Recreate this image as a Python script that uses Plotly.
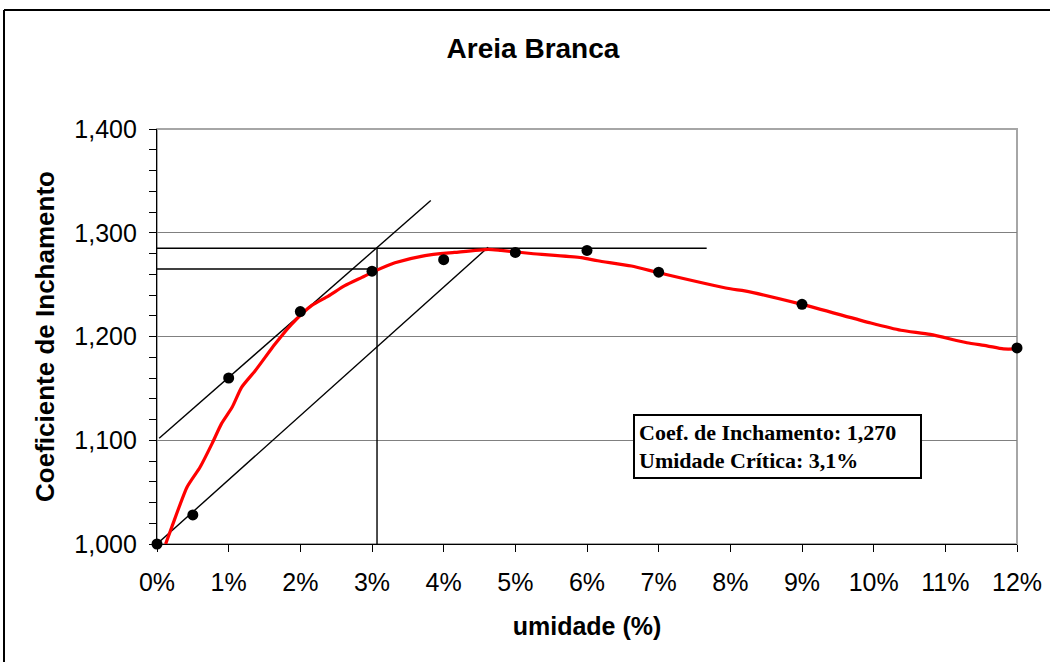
import plotly.graph_objects as go

# ---- data ----
umidade_pts = [0, 0.5, 1, 2, 3, 4, 5, 6, 7, 9, 12]
coef_pts = [1.000, 1.028, 1.160, 1.224, 1.263, 1.274, 1.281, 1.283, 1.262, 1.231, 1.189]

curve_x = [0.12, 0.21, 0.42, 0.60, 0.77, 0.90, 1.05, 1.18, 1.37, 1.65, 1.88, 2.16, 2.39,
           2.62, 2.86, 3.04, 3.32, 3.74, 4.15, 4.62, 4.80, 5.22, 5.92, 6.15, 6.62, 7.03,
           8.00, 8.20, 9.00, 9.96, 10.38, 10.79, 11.30, 11.58, 11.81, 12.00]
curve_y = [1.000, 1.017, 1.055, 1.074, 1.097, 1.116, 1.132, 1.151, 1.167, 1.193, 1.212, 1.230, 1.239,
           1.249, 1.257, 1.263, 1.271, 1.278, 1.281, 1.284, 1.283, 1.280, 1.276, 1.273, 1.268, 1.261,
           1.246, 1.244, 1.231, 1.213, 1.206, 1.202, 1.194, 1.191, 1.188, 1.188]

tangent_x = [0.03, 3.82]
tangent_y = [1.102, 1.331]
parallel_x = [0.0, 4.62]
parallel_y = [1.000, 1.286]
hline_top_x = [0.0, 7.67]
hline_top_y = [1.285, 1.285]
hline_coef_x = [0.0, 3.07]
hline_coef_y = [1.265, 1.265]
vline_x = [3.07, 3.07]
vline_y = [1.000, 1.285]

y_ticks = [1.0, 1.1, 1.2, 1.3, 1.4]
x_ticks = list(range(0, 13))
x_tick_labels = [f"{v}%" for v in x_ticks]

title_text = "Areia Branca"
x_title = "umidade (%)"
y_title = "Coeficiente de Inchamento"
box_text = "Coef. de Inchamento: 1,270<br>Umidade Crítica: 3,1%"

# ---- layout geometry ----
W, H = 1050, 662
L, R, T, B = 157, 33, 129, 118
PW, PH = W - L - R, H - T - B


def px_to_paper_x(px):
    return (px - L) / PW


def px_to_paper_y(py):
    return (H - B - py) / PH


fig = go.Figure()

line_style = dict(color="black", width=1.4)
for xs, ys in [(tangent_x, tangent_y), (parallel_x, parallel_y), (hline_top_x, hline_top_y),
               (hline_coef_x, hline_coef_y), (vline_x, vline_y)]:
    fig.add_trace(go.Scatter(x=xs, y=ys, mode="lines", line=line_style,
                             hoverinfo="skip", showlegend=False, cliponaxis=False))

fig.add_trace(go.Scatter(x=curve_x, y=curve_y, mode="lines",
                         line=dict(color="#ff0000", width=3.2, shape="spline", smoothing=0.6),
                         showlegend=False, cliponaxis=False))
fig.add_trace(go.Scatter(x=umidade_pts, y=coef_pts, mode="markers",
                         marker=dict(color="black", size=11),
                         showlegend=False, cliponaxis=False))

font_sans = "Liberation Sans, Arial, sans-serif"

fig.update_layout(
    width=W, height=H,
    margin=dict(l=L, r=R, t=T, b=B, pad=0),
    paper_bgcolor="white", plot_bgcolor="white",
    separators=",.",
    font=dict(family=font_sans, color="black", size=25),
    title=dict(text="<b>" + title_text + "</b>", x=533 / W, xanchor="center",
               y=1 - 48 / H, yanchor="middle", xref="container", yref="container",
               font=dict(size=28, family=font_sans, color="black")),
    xaxis=dict(range=[0, 12], tickvals=x_ticks, ticktext=x_tick_labels, showgrid=False,
               zeroline=False, showline=True, linecolor="black", linewidth=1.2,
               ticks="outside", ticklen=7, tickcolor="black", tickwidth=1.2,
               ticklabelstandoff=9, automargin=False,
               tickfont=dict(size=25, family=font_sans),
               title=dict(text="<b>" + x_title + "</b>", standoff=22,
                          font=dict(size=25, family=font_sans))),
    yaxis=dict(range=[1.0, 1.4], tickvals=y_ticks, tickformat=".3f", showgrid=True,
               gridcolor="#808080", gridwidth=1.2, zeroline=False, showline=True,
               linecolor="black", linewidth=1.2, ticks="outside", ticklen=7,
               tickcolor="black", tickwidth=1.2, ticklabelstandoff=7, automargin=False,
               minor=dict(dtick=0.02, ticks="outside", ticklen=7, tickcolor="black",
                          tickwidth=1.2, showgrid=False),
               tickfont=dict(size=25, family=font_sans),
               title=dict(text="<b>" + y_title + "</b>", standoff=12,
                          font=dict(size=26, family=font_sans))),
)

# plot area border (right side visible in grey)
fig.add_shape(type="rect", xref="paper", yref="paper", x0=0, x1=1, y0=0, y1=1,
              line=dict(color="#a6a6a6", width=2), layer="below")

# outer chart frame (top and left edges visible)
fig.add_shape(type="line", xref="paper", yref="paper",
              x0=px_to_paper_x(4), x1=px_to_paper_x(1060),
              y0=px_to_paper_y(10), y1=px_to_paper_y(10),
              line=dict(color="black", width=2))
fig.add_shape(type="line", xref="paper", yref="paper",
              x0=px_to_paper_x(4), x1=px_to_paper_x(4),
              y0=px_to_paper_y(10), y1=px_to_paper_y(680),
              line=dict(color="black", width=2))

# text box
fig.add_annotation(
    xref="paper", yref="paper",
    x=px_to_paper_x(633), y=px_to_paper_y(414),
    xanchor="left", yanchor="top",
    text="<b>" + box_text + "</b>", align="left", showarrow=False,
    font=dict(family="Liberation Serif, Times New Roman, serif", size=22, color="black"),
    bgcolor="white", bordercolor="black", borderwidth=2, borderpad=4,
    width=277, height=53,
)

fig.write_html("out.html", config={"displayModeBar": False},
               post_script="document.body.style.margin='0';")
